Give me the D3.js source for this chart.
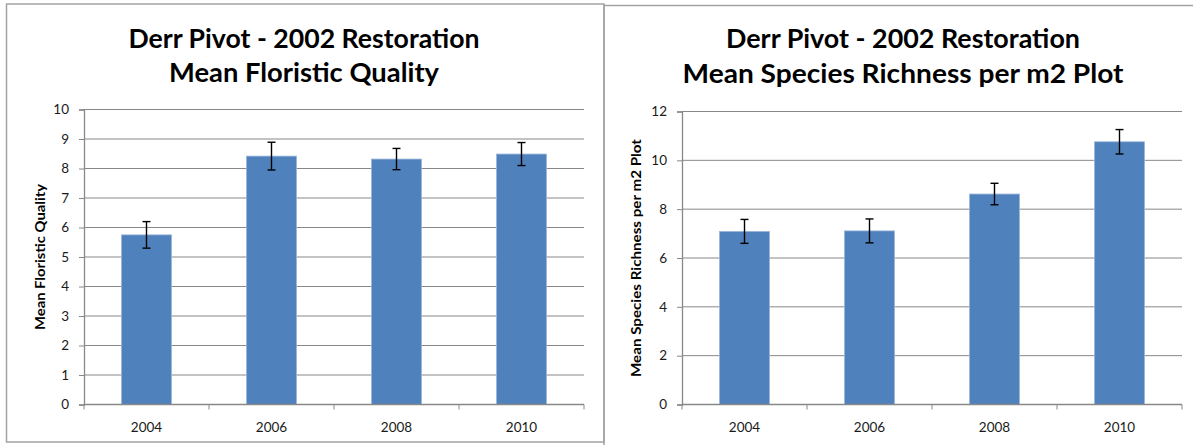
<!DOCTYPE html>
<html>
<head>
<meta charset="utf-8">
<script src="https://cdn.jsdelivr.net/npm/d3@7"></script>
<style>
  html, body { margin: 0; padding: 0; background: #fff; }
  svg { display: block; }
</style>
</head>
<body>
<svg id="chart" width="1193" height="445"></svg>
<script>
// ---- data ----
const categories = ["2004", "2006", "2008", "2010"];

const fqTitle = ["Derr Pivot - 2002 Restoration", "Mean Floristic Quality"];
const fqAxisTitle = "Mean Floristic Quality";
const fqValues = [5.75, 8.42, 8.32, 8.49];
const fqErrors = [0.45, 0.47, 0.36, 0.39];
const fqTicks = [0, 1, 2, 3, 4, 5, 6, 7, 8, 9, 10];

const srTitle = ["Derr Pivot - 2002 Restoration", "Mean Species Richness per m2 Plot"];
const srAxisTitle = "Mean Species Richness per m2 Plot";
const srValues = [7.09, 7.11, 8.62, 10.76];
const srErrors = [0.49, 0.49, 0.44, 0.50];
const srTicks = [0, 2, 4, 6, 8, 10, 12];

// ---- drawing ----
const svg = d3.select("#chart");
const FONT = "Lato, 'Open Sans', 'DejaVu Sans', sans-serif";
const GRID = "#888888";
const BAR = "#4F81BD";

function drawPanel(cfg) {
  const g = svg.append("g");
  // panel frame
  g.append("path")
    .attr("d", cfg.framePath)
    .attr("fill", "none")
    .attr("stroke", "#a3a3a3")
    .attr("stroke-width", 1.5);

  // titles
  cfg.title.forEach((t, i) => {
    g.append("text")
      .attr("x", cfg.titleX)
      .attr("y", cfg.titleY[i])
      .attr("text-anchor", "middle")
      .attr("font-family", FONT)
      .attr("font-weight", "bold")
      .attr("font-size", 26)
      .attr("fill", "#000")
      .attr("textLength", cfg.titleLen[i])
      .attr("lengthAdjust", "spacingAndGlyphs")
      .text(t);
  });

  const x = d3.scaleBand()
    .domain(cfg.categories)
    .range([cfg.x0, cfg.x1])
    .paddingInner(0.6)
    .paddingOuter(0.3);
  const xEdges = d3.scalePoint()
    .domain(d3.range(cfg.categories.length + 1))
    .range([cfg.x0, cfg.x1]);
  const y = d3.scaleLinear()
    .domain([0, d3.max(cfg.ticks)])
    .range([cfg.y0, cfg.y1]);

  // gridlines
  g.append("g")
    .selectAll("line")
    .data(cfg.ticks.filter(t => t !== 0))
    .join("line")
    .attr("x1", cfg.x0)
    .attr("x2", cfg.x1)
    .attr("y1", d => y(d))
    .attr("y2", d => y(d))
    .attr("stroke", GRID)
    .attr("stroke-width", 1);

  // y axis
  const yAxis = d3.axisLeft(y)
    .tickValues(cfg.ticks)
    .tickSize(5)
    .tickPadding(10)
    .tickFormat(d3.format("d"));
  const ya = g.append("g")
    .attr("transform", `translate(${cfg.x0},0)`)
    .call(yAxis);
  ya.select(".domain").attr("stroke", GRID).attr("stroke-width", 1.3);
  ya.selectAll(".tick line").attr("stroke", GRID);
  ya.selectAll(".tick text")
    .attr("font-family", FONT)
    .attr("font-size", 13.5)
    .attr("fill", "#1a1a1a");

  // bars
  g.append("g")
    .selectAll("rect")
    .data(cfg.values)
    .join("rect")
    .attr("x", (d, i) => x(cfg.categories[i]))
    .attr("width", x.bandwidth())
    .attr("y", d => y(d))
    .attr("height", d => y(0) - y(d))
    .attr("fill", BAR)
    .attr("stroke", "#9cb6da")
    .attr("stroke-width", 0.8);

  // x axis
  const xa = g.append("g")
    .attr("transform", `translate(0,${cfg.y0})`);
  xa.append("line")
    .attr("x1", cfg.x0).attr("x2", cfg.x1)
    .attr("stroke", GRID).attr("stroke-width", 1.5);
  xa.selectAll("line.tk")
    .data(xEdges.domain())
    .join("line")
    .attr("class", "tk")
    .attr("x1", d => xEdges(d)).attr("x2", d => xEdges(d))
    .attr("y1", 0).attr("y2", 5)
    .attr("stroke", GRID).attr("stroke-width", 1);
  xa.selectAll("text")
    .data(cfg.categories)
    .join("text")
    .attr("x", d => x(d) + x.bandwidth() / 2)
    .attr("y", 27)
    .attr("text-anchor", "middle")
    .attr("font-family", FONT)
    .attr("font-size", 13.5)
    .attr("fill", "#1a1a1a")
    .text(d => d);

  // error bars
  const eb = g.append("g")
    .selectAll("g")
    .data(cfg.values.map((v, i) => ({ v, e: cfg.errors[i], c: cfg.categories[i] })))
    .join("g")
    .attr("stroke", "#000")
    .attr("stroke-width", 1.4);
  eb.append("line")
    .attr("x1", d => x(d.c) + x.bandwidth() / 2)
    .attr("x2", d => x(d.c) + x.bandwidth() / 2)
    .attr("y1", d => y(d.v + d.e))
    .attr("y2", d => y(d.v - d.e));
  [1, -1].forEach(s => {
    eb.append("line")
      .attr("x1", d => x(d.c) + x.bandwidth() / 2 - 4)
      .attr("x2", d => x(d.c) + x.bandwidth() / 2 + 4)
      .attr("y1", d => y(d.v + s * d.e))
      .attr("y2", d => y(d.v + s * d.e));
  });

  // y axis title
  g.append("text")
    .attr("transform", `translate(${cfg.axisTitleX},${(cfg.y0 + cfg.y1) / 2}) rotate(-90)`)
    .attr("text-anchor", "middle")
    .attr("dy", "0.35em")
    .attr("font-family", FONT)
    .attr("font-weight", "bold")
    .attr("font-size", 14)
    .attr("fill", "#000")
    .attr("textLength", cfg.axisTitleLen)
    .attr("lengthAdjust", "spacingAndGlyphs")
    .text(cfg.axisTitle);
}

drawPanel({
  framePath: "M6.5,442 L6.5,4 L604,4 L604,442 Z",
  title: fqTitle, titleX: 304, titleY: [47.5, 81.5], titleLen: [351, 270],
  categories, values: fqValues, errors: fqErrors, ticks: fqTicks,
  x0: 84, x1: 584, y0: 404.5, y1: 109.5,
  axisTitle: fqAxisTitle, axisTitleX: 40, axisTitleLen: 146
});

drawPanel({
  framePath: "M604,446 L604,5.5 L1200,5.5",
  title: srTitle, titleX: 903, titleY: [48, 83], titleLen: [354, 441],
  categories, values: srValues, errors: srErrors, ticks: srTicks,
  x0: 682, x1: 1182, y0: 404.5, y1: 111.5,
  axisTitle: srAxisTitle, axisTitleX: 636, axisTitleLen: 238
});
</script>
</body>
</html>
